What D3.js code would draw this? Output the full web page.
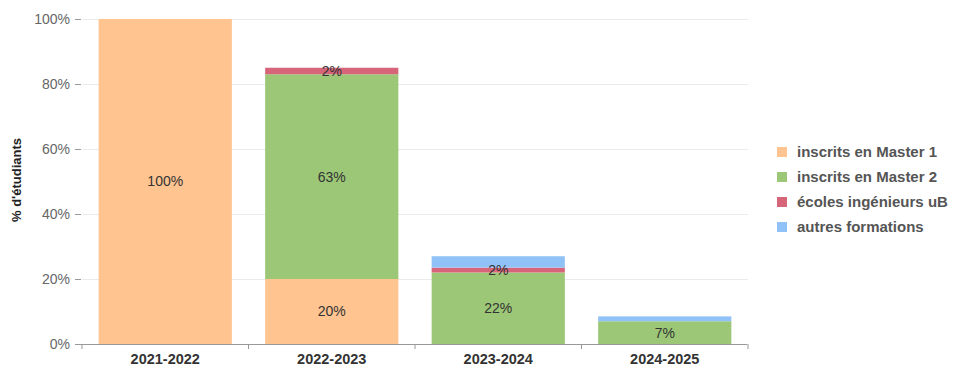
<!DOCTYPE html>
<html><head><meta charset="utf-8">
<script src="https://cdn.jsdelivr.net/npm/d3@7"></script>
<style>body{margin:0;background:#fff;font-family:Arial,"Liberation Sans",sans-serif}</style>
</head><body><svg id="c" width="953" height="367"></svg>
<script>
const categories = ["2021-2022","2022-2023","2023-2024","2024-2025"];
const seriesNames = ["inscrits en Master 1","inscrits en Master 2","écoles ingénieurs uB","autres formations"];
const master1 = [100, 20, 0, 0];
const master2 = [0, 63, 22, 7];
const ecoles = [0, 2, 1.5, 0];
const autres = [0, 0, 3.5, 1.5];
const colors = ["#FFC490","#9CC777","#D7657A","#91C2F7"];
const showLabel = [true, true, true, false];
const yTicks = [0,20,40,60,80,100];

const values = [master1, master2, ecoles, autres];
const rows = categories.map((c,i)=>{const o={cat:c}; seriesNames.forEach((s,k)=>o[s]=values[k][i]); return o;});
const stack = d3.stack().keys(seriesNames)(rows);

const svg = d3.select("#c");
const x = d3.scaleBand().domain(categories).range([82,748]).paddingInner(0.2).paddingOuter(0.1);
const y = d3.scaleLinear().domain([0,100]).range([344,19]);

// gridlines
svg.append("g").selectAll("line").data(yTicks.filter(t=>t>0)).join("line")
  .attr("x1",82).attr("x2",748).attr("y1",d=>y(d)+0.5).attr("y2",d=>y(d)+0.5)
  .attr("stroke","#ebebeb");

// y axis
const ya = svg.append("g").attr("transform","translate(81,0)")
  .call(d3.axisLeft(y).tickValues(yTicks).tickFormat(d=>d+"%").tickSize(6).tickPadding(5));
ya.select(".domain").remove();
ya.selectAll(".tick line").attr("stroke","#999");
ya.selectAll("text").attr("fill","#666").attr("font-size",14).attr("font-family","Arial,'Liberation Sans',sans-serif");

// bars
stack.forEach((layer,k)=>{
  svg.append("g").selectAll("rect").data(layer).join("rect")
    .attr("x",d=>x(d.data.cat)).attr("width",x.bandwidth())
    .attr("y",d=>y(d[1])).attr("height",d=>y(d[0])-y(d[1]))
    .attr("fill",colors[k]);
});
stack.forEach((layer,k)=>{
  if(!showLabel[k]) return;
  svg.append("g").selectAll("text").data(layer.filter(d=>d[1]-d[0]>0)).join("text")
    .attr("x",d=>x(d.data.cat)+x.bandwidth()/2)
    .attr("y",d=>(y(d[0])+y(d[1]))/2)
    .attr("dy","0.35em").attr("text-anchor","middle")
    .attr("font-size",14).attr("fill","#333")
    .text(d=>Math.round(d[1]-d[0])+"%");
});

// x axis
const xa = svg.append("g").attr("transform","translate(0,344)");
xa.append("line").attr("x1",80).attr("x2",747).attr("y1",0.5).attr("y2",0.5).attr("stroke","#999");
const bounds = [0,1,2,3,4].map(i=>82+i*x.step());
xa.selectAll(".bt").data(bounds).join("line").attr("class","bt")
  .attr("x1",d=>d).attr("x2",d=>d).attr("y1",0).attr("y2",5).attr("stroke","#999");
xa.selectAll(".xl").data(categories).join("text").attr("class","xl")
  .attr("x",d=>x(d)+x.bandwidth()/2).attr("y",20)
  .attr("text-anchor","middle").attr("font-size",14.5).attr("font-weight","bold").attr("fill","#333")
  .text(d=>d);

// y title
svg.append("text").attr("transform","translate(21,180) rotate(-90)")
  .attr("text-anchor","middle").attr("font-size",13).attr("font-weight","bold").attr("fill","#222")
  .text("% d'étudiants");

// legend
const lg = svg.append("g").selectAll("g").data(seriesNames).join("g")
  .attr("transform",(d,i)=>`translate(777,${152+i*25})`);
lg.append("rect").attr("x",0).attr("y",-5).attr("width",10).attr("height",10).attr("fill",(d,i)=>colors[i]);
lg.append("text").attr("x",20).attr("dy","0.35em").attr("font-size",15).attr("fill","#555").attr("font-weight","bold")
  .text(d=>d);
</script></body></html>
